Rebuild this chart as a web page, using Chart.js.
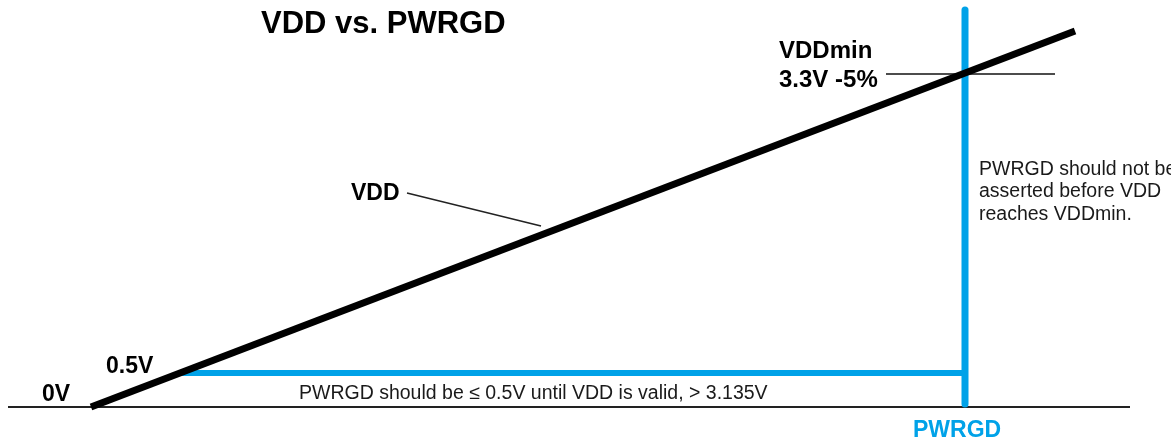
<!DOCTYPE html>
<html>
<head>
<meta charset="utf-8">
<script src="https://cdn.jsdelivr.net/npm/chart.js@4/dist/chart.umd.min.js"></script>
<style>
  html, body { margin: 0; padding: 0; background: #fff; }
  #wrap { width: 1171px; height: 438px; }
</style>
</head>
<body>
<div id="wrap"><canvas id="chart_id" width="1171" height="438"></canvas></div>
<script>
// diagram units: x = time, y = level above ground (0 = ground line)
const groundX = [8, 1130];
const groundY = [0, 0];
const vddX = [91, 1075];
const vddY = [0, 376];
const pwrgdLowX = [180, 965];
const pwrgdLowY = [34, 34];
const pwrgdRiseX = [965, 965];
const pwrgdRiseY = [3, 397];
const vddMinX = [886, 1055];
const vddMinY = [333, 333];
const leaderX = [407, 541];
const leaderY = [214, 181];

// text labels
const labelText = [
  "VDD vs. PWRGD", "VDDmin", "3.3V -5%", "VDD", "0.5V", "0V",
  "PWRGD should be \u2264 0.5V until VDD is valid, > 3.135V",
  "PWRGD should not be", "asserted before VDD", "reaches VDDmin.", "PWRGD"
];
const labelX = [261, 779, 779, 351, 106, 42, 299, 979, 979, 979, 913];
const labelY = [374, 349, 320, 207, 34, 6, 8, 232, 210, 187, -30];

const BLUE = "rgb(0, 162, 232)";

function pts(xs, ys) {
  let out = [];
  for (let i = 0; i < xs.length; i++) {
    out.push({ x: xs[i], y: ys[i] });
  }
  return out;
}

function labelStyle(i) {
  if (i == 0) return { font: "bold 31px 'Liberation Sans', Arial", color: "#000" };
  if (i == 1 || i == 2) return { font: "bold 24px 'Liberation Sans', Arial", color: "#000" };
  if (i >= 6 && i <= 9) return { font: "19.5px 'Liberation Sans', Arial", color: "#1a1a1a" };
  if (i == 10) return { font: "bold 23px 'Liberation Sans', Arial", color: BLUE };
  return { font: "bold 23px 'Liberation Sans', Arial", color: "#000" };
}

const textPlugin = {
  id: "diagram_text",
  afterDatasetsDraw(chart) {
    const ctx = chart.ctx;
    const xs = chart.scales.x;
    const ys = chart.scales.y;
    ctx.save();
    ctx.textAlign = "left";
    ctx.textBaseline = "alphabetic";
    for (let i = 0; i < labelText.length; i++) {
      const st = labelStyle(i);
      ctx.font = st.font;
      ctx.fillStyle = st.color;
      ctx.fillText(labelText[i], xs.getPixelForValue(labelX[i]), ys.getPixelForValue(labelY[i]));
    }
    ctx.restore();
  }
};

const line = (data, color, width, cap) => ({
  data: data,
  showLine: true,
  borderColor: color,
  borderWidth: width,
  borderCapStyle: cap || "butt",
  pointRadius: 0,
  fill: false,
  tension: 0
});

const config = {
  type: "scatter",
  data: {
    datasets: [
      line(pts(vddX, vddY), "#000", 7),
      line(pts(leaderX, leaderY), "#222", 1.5),
      line(pts(vddMinX, vddMinY), "#111", 1.5),
      line(pts(pwrgdRiseX, pwrgdRiseY), BLUE, 7, "round"),
      line(pts(pwrgdLowX, pwrgdLowY), BLUE, 6),
      line(pts(groundX, groundY), "#222", 2)
    ]
  },
  options: {
    responsive: false,
    animation: false,
    devicePixelRatio: 1,
    layout: { padding: 0 },
    plugins: { legend: { display: false }, tooltip: { enabled: false } },
    scales: {
      x: { type: "linear", min: 0, max: 1171, display: false },
      y: { type: "linear", min: -31, max: 407, display: false }
    }
  },
  plugins: [textPlugin]
};

const myChart = new Chart(document.getElementById("chart_id"), config);
</script>
</body>
</html>
